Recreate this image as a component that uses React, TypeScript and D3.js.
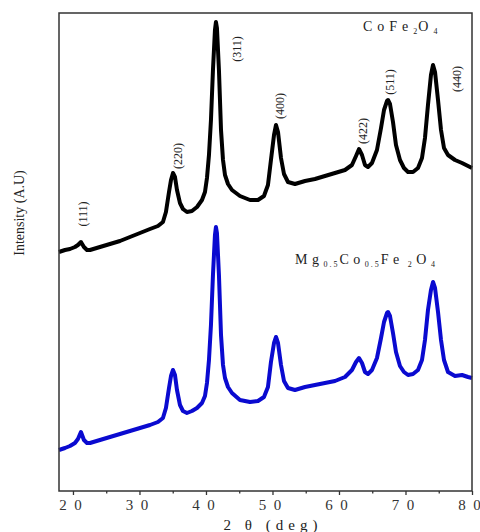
import React, { useEffect, useRef } from 'react';
import * as d3 from 'd3';

// 2θ positions (deg), shared by both patterns
const twoTheta = [
  17.89, 18.8, 19.55, 20.3, 20.75, 21.2, 21.65, 22.11, 22.56, 24.06,
  25.56, 27.07, 28.57, 30.08, 31.58, 32.78, 33.53, 33.98, 34.44, 34.74,
  35.04, 35.34, 35.64, 36.09, 36.54, 37.14, 37.89, 38.65, 39.4, 39.85,
  40.15, 40.45, 40.75, 41.05, 41.35, 41.5, 41.65, 41.95, 42.26, 42.56,
  42.86, 43.31, 43.91, 45.11, 46.62, 47.82, 48.72, 49.32, 49.77, 50.23,
  50.53, 50.83, 51.28, 51.73, 52.33, 53.38, 54.89, 56.39, 57.89, 59.4,
  60.9, 61.95, 62.56, 63.01, 63.46, 63.91, 64.36, 64.96, 65.71, 66.32,
  66.77, 67.22, 67.37, 67.67, 68.12, 68.57, 69.17, 69.77, 70.38, 71.13,
  71.88, 72.48, 72.93, 73.38, 73.83, 74.14, 74.44, 74.89, 75.34, 75.79,
  76.39, 77.44, 78.5, 79.4, 80.0,
];

// CoFe2O4 (upper trace, already offset)
const cofe2o4 = [
  239, 241, 242, 244, 246, 249, 244, 241, 241, 244,
  247, 250, 254, 258, 262, 265, 269, 279, 299, 311,
  318, 314, 301, 288, 282, 279, 280, 284, 291, 299,
  313, 336, 371, 421, 461, 469, 463, 421, 361, 331,
  316, 307, 301, 295, 291, 291, 295, 306, 331, 356,
  366, 359, 333, 317, 309, 307, 310, 312, 315, 318,
  321, 326, 335, 342, 336, 326, 324, 328, 341, 363,
  381, 390, 391, 387, 369, 346, 331, 323, 319, 319,
  323, 333, 353, 386, 416, 426, 419, 391, 361, 343,
  336, 331, 328, 325, 323,
];

// Mg0.5Co0.5Fe2O4 (lower trace)
const mgcofe2o4 = [
  41, 43, 45, 48, 52, 59, 51, 48, 48, 51,
  54, 57, 60, 63, 66, 69, 73, 83, 103, 115,
  121, 116, 101, 86, 80, 78, 80, 83, 88, 95,
  108, 131, 166, 216, 256, 264, 258, 216, 156, 126,
  113, 104, 98, 91, 89, 90, 94, 104, 129, 148,
  154, 148, 126, 110, 103, 101, 104, 106, 108, 110,
  114, 121, 129, 133, 128, 119, 117, 121, 133, 153,
  169, 178, 179, 175, 158, 139, 125, 119, 116, 117,
  121, 131, 151, 181, 201, 209, 203, 179, 151, 131,
  119, 115, 116, 114, 113,
];

const peakLabels = ['(111)', '(220)', '(311)', '(400)', '(422)', '(511)', '(440)'];
const labelTheta = [22.11, 36.39, 45.26, 51.73, 64.21, 68.27, 78.35];
const labelLevel = [277, 335, 442, 385, 360, 409, 412];

const majorTicks = [20, 30, 40, 50, 60, 70, 80];
const minorTicks = [25, 35, 45, 55, 65, 75];

const serif = '"Liberation Serif", "Times New Roman", serif';

export default function App() {
  const axisRef = useRef<SVGGElement>(null);

  const W = 480, H = 532;
  const margin = { top: 13, right: 8, bottom: 41, left: 59 };
  const width = W - margin.left - margin.right;
  const height = H - margin.top - margin.bottom;

  const x = d3.scaleLinear().domain([17.9, 80]).range([0, width]);
  const y = d3.scaleLinear().domain([0, 478]).range([height, 0]);

  const line = d3.line<number>()
    .x((_, i) => x(twoTheta[i]))
    .y(d => y(d));

  useEffect(() => {
    if (!axisRef.current) return;
    const g = d3.select(axisRef.current);
    g.selectAll('*').remove();

    // spaced digits, like "2 0"
    const spaced = (d: d3.NumberValue) => String(d).split('').join('\u2002');

    const major = g.append('g')
      .call(d3.axisBottom(x).tickValues(majorTicks).tickSize(4).tickPadding(4).tickFormat(spaced));
    major.select('.domain').remove();
    major.selectAll('line').attr('stroke', '#333').attr('stroke-width', 1.3);
    major.selectAll('text')
      .attr('fill', '#333')
      .attr('dx', -3)
      .style('font-family', serif)
      .style('font-size', '15px');

    const minor = g.append('g')
      .call(d3.axisBottom(x).tickValues(minorTicks).tickSize(2.5).tickFormat(() => ''));
    minor.select('.domain').remove();
    minor.selectAll('line').attr('stroke', '#333').attr('stroke-width', 1.3);
  }, []);

  return (
    <svg width={W} height={H} style={{ position: 'absolute', left: 0, top: 0, background: '#fff' }}>
      <g transform={`translate(${margin.left},${margin.top})`}>
        <path d={line(mgcofe2o4) ?? ''} fill="none" stroke="#0a0ad0" strokeWidth={4} strokeLinejoin="round" />
        <path d={line(cofe2o4) ?? ''} fill="none" stroke="#000" strokeWidth={4} strokeLinejoin="round" />

        {peakLabels.map((lab, i) => (
          <text key={lab}
            transform={`translate(${x(labelTheta[i])},${y(labelLevel[i])}) rotate(-90)`}
            textAnchor="middle" fontFamily={serif} fontSize={12} fill="#222">{lab}</text>
        ))}

        <rect x={0} y={0} width={width} height={height} fill="none" stroke="#333" strokeWidth={1.5} />
        <g ref={axisRef} transform={`translate(0,${height})`} />
      </g>

      <text x={363} y={31} fontFamily={serif} fontSize={14} letterSpacing={5} fill="#222">
        CoFe<tspan fontSize={8} dy={3} letterSpacing={1}>2</tspan><tspan dy={-3}>O</tspan><tspan fontSize={8} dy={3}>4</tspan>
      </text>

      <text x={295} y={264} fontFamily={serif} fontSize={14} letterSpacing={4.5} fill="#222">
        Mg<tspan fontSize={8} dy={3} letterSpacing={2}>0.5</tspan><tspan dy={-3}>Co</tspan><tspan fontSize={8} dy={3} letterSpacing={2}>0.5</tspan><tspan dy={-3}>Fe</tspan><tspan fontSize={8} dy={3} dx={4}>2</tspan><tspan dy={-3}>O</tspan><tspan fontSize={8} dy={3}>4</tspan>
      </text>

      <text transform="translate(24,213) rotate(-90)" textAnchor="middle" fontFamily={serif} fontSize={14} fill="#222">
        Intensity (A.U)
      </text>

      <text x={273} y={530} textAnchor="middle" fontFamily={serif} fontSize={15} letterSpacing={5} fill="#222">
        2 θ (deg)
      </text>
    </svg>
  );
}
